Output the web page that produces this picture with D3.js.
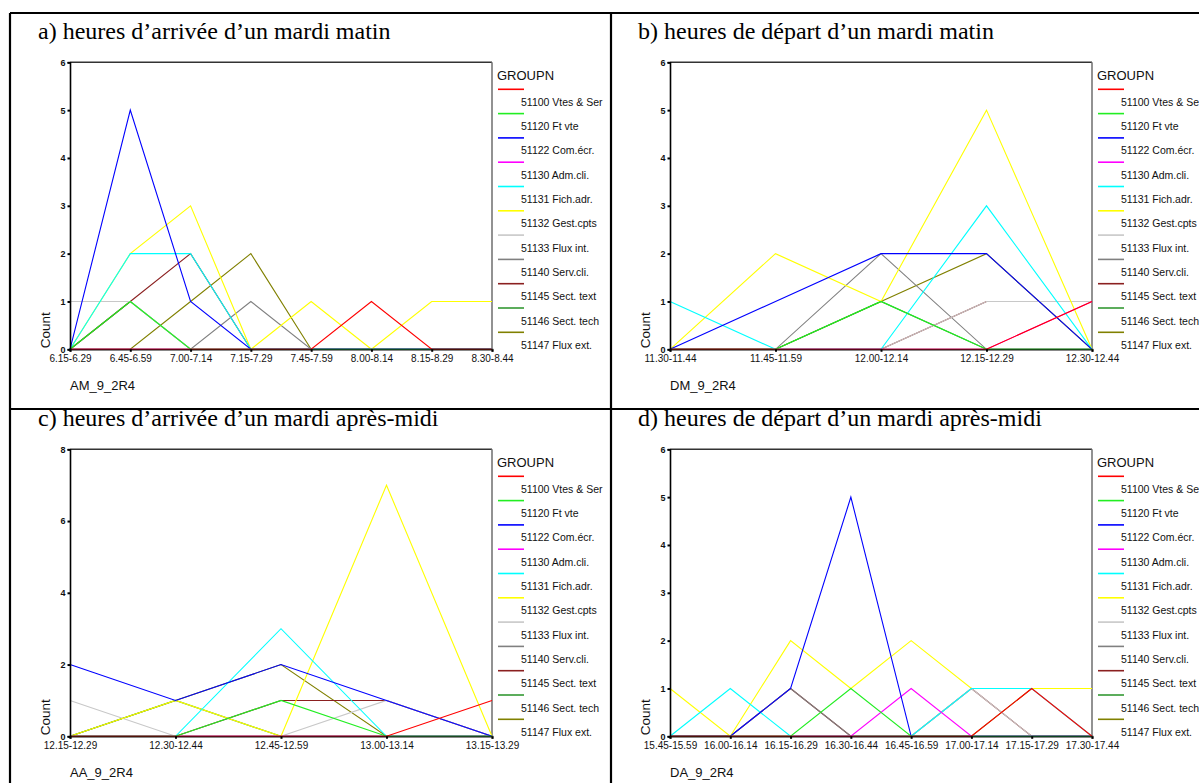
<!DOCTYPE html>
<html><head><meta charset="utf-8">
<script src="https://cdn.jsdelivr.net/npm/d3@7"></script>
<style>
body{margin:0;background:#fff}
text{font-family:"Liberation Sans",Arial,sans-serif;fill:#111}
.title{font-family:"Liberation Serif","Times New Roman",serif;font-size:24px;fill:#000}
</style>
</head><body>
<svg id="chart" width="1199" height="783"></svg>
<script>
const groups = ["51100 Vtes & Ser","51120 Ft vte","51122 Com.écr.","51130 Adm.cli.","51131 Fich.adr.","51132 Gest.cpts","51133 Flux int.","51140 Serv.cli.","51145 Sect. text","51146 Sect. tech","51147 Flux ext."];
const groupColors = ["#ff0000","#22ee22","#0000ff","#ff00ff","#00ffff","#ffff00","#c8c8c8","#808080","#8b2020","#339933","#808000"];

const titles = ["a) heures d’arrivée d’un mardi matin","b) heures de départ d’un mardi matin","c) heures d’arrivée d’un mardi après-midi","d) heures de départ d’un mardi après-midi"];
const varNames = ["AM_9_2R4","DM_9_2R4","AA_9_2R4","DA_9_2R4"];

const catsA = ["6.15-6.29","6.45-6.59","7.00-7.14","7.15-7.29","7.45-7.59","8.00-8.14","8.15-8.29","8.30-8.44"];
const valsA = [
  [0,0,0,0,0,1,0,0],
  [0,1,0,0,0,0,0,0],
  [0,5,1,0,0,0,0,0],
  [0,0,0,0,0,0,0,0],
  [0,2,2,0,0,0,0,0],
  [0,2,3,0,1,0,1,1],
  [1,1,0,0,0,0,0,0],
  [0,0,0,1,0,0,0,0],
  [0,1,2,0,0,0,0,0],
  [0,1,0,0,0,0,0,0],
  [0,0,1,2,0,0,0,0]
];
const catsB = ["11.30-11.44","11.45-11.59","12.00-12.14","12.15-12.29","12.30-12.44"];
const valsB = [
  [0,0,0,0,1],
  [0,0,1,0,0],
  [0,1,2,2,0],
  [0,0,0,0,1],
  [1,0,0,3,0],
  [0,2,1,5,0],
  [0,0,0,1,1],
  [0,0,2,0,0],
  [0,0,0,1,1],
  [0,0,1,0,0],
  [0,0,1,2,0]
];
const catsC = ["12.15-12.29","12.30-12.44","12.45-12.59","13.00-13.14","13.15-13.29"];
const valsC = [
  [0,0,0,0,1],
  [0,0,1,0,0],
  [2,1,2,1,0],
  [0,0,0,0,0],
  [0,0,3,0,0],
  [0,1,0,7,0],
  [1,0,0,1,0],
  [0,0,0,0,0],
  [0,0,1,1,0],
  [0,1,0,0,0],
  [0,1,2,0,0]
];
const catsD = ["15.45-15.59","16.00-16.14","16.15-16.29","16.30-16.44","16.45-16.59","17.00-17.14","17.15-17.29","17.30-17.44"];
const valsD = [
  [0,0,0,0,0,0,1,0],
  [0,0,0,1,0,0,0,0],
  [0,0,1,5,0,0,0,0],
  [0,0,0,0,1,0,0,0],
  [0,1,0,0,0,1,1,0],
  [1,0,2,1,2,1,1,1],
  [0,0,0,0,0,1,0,0],
  [0,0,1,0,0,0,0,0],
  [0,0,1,0,0,1,0,0],
  [0,0,0,0,0,0,0,0],
  [0,0,0,0,0,0,1,1]
];
const yMax = [6,6,8,6];
const yTicks = [[0,1,2,3,4,5,6],[0,1,2,3,4,5,6],[0,2,4,6,8],[0,1,2,3,4,5,6]];

const svg = d3.select("#chart");

// outer frame
const frame = svg.append("g").attr("stroke","#000").attr("stroke-width",2.2);
frame.append("line").attr("x1",10).attr("x2",1199).attr("y1",13).attr("y2",13);
frame.append("line").attr("x1",10).attr("x2",10).attr("y1",13).attr("y2",783);
frame.append("line").attr("x1",611).attr("x2",611).attr("y1",13).attr("y2",783);
frame.append("line").attr("x1",10).attr("x2",1199).attr("y1",409).attr("y2",409);

const panels = [
  {cats:catsA, vals:valsA, ox:0, oy:0},
  {cats:catsB, vals:valsB, ox:600, oy:0},
  {cats:catsC, vals:valsC, ox:0, oy:387},
  {cats:catsD, vals:valsD, ox:600, oy:387}
];

panels.forEach((p,pi)=>{
  const g = svg.append("g").attr("transform",`translate(${p.ox},${p.oy})`);
  const L=70, R=492, T=62.3, B=349.3;
  g.append("text").attr("class","title").attr("x",38).attr("y",39).text(titles[pi]);

  const x = d3.scalePoint().domain(p.cats).range([L,R]).padding(0);
  const y = d3.scaleLinear().domain([0,yMax[pi]]).range([B,T]);

  // frame top/right
  g.append("line").attr("x1",L).attr("x2",R).attr("y1",T).attr("y2",T).attr("stroke","#333").attr("stroke-width",1.5);
  g.append("line").attr("x1",R).attr("x2",R).attr("y1",T).attr("y2",B).attr("stroke","#777").attr("stroke-width",1.6);

  // lines, last group drawn first
  const line = d3.line().x((d,i)=>x(p.cats[i])).y(d=>y(d));
  const order = d3.range(p.vals.length).reverse();
  order.forEach(si=>{
    g.append("path").attr("d",line(p.vals[si])).attr("fill","none")
     .attr("stroke",groupColors[si]).attr("stroke-width",1.1);
  });

  const xa = g.append("g").attr("transform",`translate(0,${B})`)
    .call(d3.axisBottom(x).tickSize(2.5).tickPadding(3));
  xa.select(".domain").attr("stroke","#000").attr("stroke-width",2).attr("stroke-opacity",0.62);
  xa.selectAll(".tick line").attr("stroke","#000").attr("stroke-width",2);
  xa.selectAll(".tick text").style("font-size","10px").attr("fill","#111").style("font-family","'Liberation Sans',Arial,sans-serif");

  const ya = g.append("g").attr("transform",`translate(${L},0)`)
    .call(d3.axisLeft(y).tickValues(yTicks[pi]).tickSize(2.5).tickPadding(2).tickFormat(d3.format("d")));
  ya.select(".domain").attr("stroke","#000").attr("stroke-width",1.6);
  ya.selectAll(".tick line").attr("stroke","#000").attr("stroke-width",2);
  ya.selectAll(".tick text").style("font-size","9px").style("font-weight","bold").attr("fill","#222").style("font-family","'Liberation Sans',Arial,sans-serif");

  g.append("text").attr("transform",`translate(49.5,${B-1}) rotate(-90)`).style("font-size","13.5px").text("Count");
  g.append("text").attr("x",70).attr("y",B+41).style("font-size","13px").text(varNames[pi]);

  // legend
  const lg = g.append("g");
  lg.append("text").attr("x",497).attr("y",T+17.5).style("font-size","13px").text("GROUPN");
  groups.forEach((name,si)=>{
    const ly = T + 27 + si*24.3;
    lg.append("line").attr("x1",498).attr("x2",524).attr("y1",ly).attr("y2",ly)
      .attr("stroke",groupColors[si]).attr("stroke-width",1.6);
    lg.append("text").attr("x",521).attr("y",ly+16.5).style("font-size","10.5px").text(name);
  });
});
</script>
</body></html>
